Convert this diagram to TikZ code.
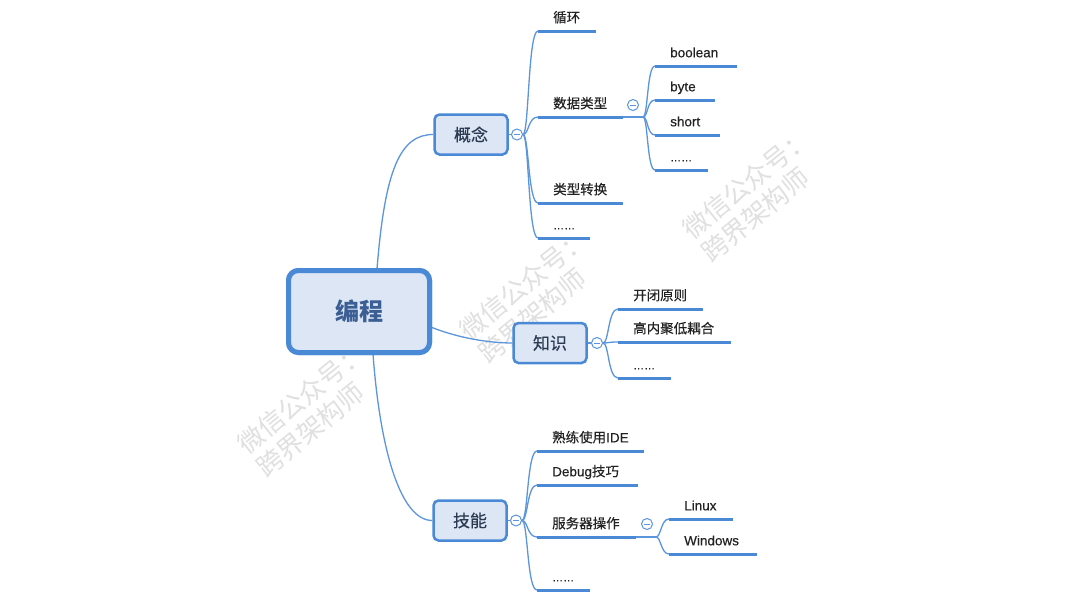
\documentclass[tikz,border=0pt]{standalone}
\usepackage{fontspec}
\setmainfont{Noto Sans CJK SC}
\newfontfamily\lat{Liberation Sans}[FakeBold=0.3]
\usetikzlibrary{calc}
\definecolor{blu}{HTML}{4A89D6}
\definecolor{lnk}{HTML}{5B95DC}
\definecolor{boxfill}{HTML}{DCE6F4}
\definecolor{roottxt}{HTML}{3B5F94}
\definecolor{boxtxt}{HTML}{2B3A52}
\definecolor{txt}{HTML}{222222}
\definecolor{wmc}{HTML}{E0E0E0}
\newcommand{\dotsym}{{\lat\fontsize{11}{12}\selectfont ……}}
\begin{document}
\begin{tikzpicture}[x=1pt,y=-1pt,
 rootbox/.style={draw=blu, line width=5pt, fill=boxfill, rounded corners=10pt, minimum width=141pt, minimum height=82pt, font=\fontsize{24}{28}\selectfont\bfseries, text=roottxt},
 topic/.style={draw=blu, line width=2.5pt, fill=boxfill, rounded corners=5pt, minimum width=73pt, minimum height=40pt, font=\fontsize{17}{20}\selectfont\addfontfeature{FakeBold=0.3}, text=boxtxt},
 leaf/.style={anchor=south west, inner xsep=0pt, inner ysep=0pt, text width=#1, align=left, text height=10pt, text depth=8.5pt, font=\fontsize{13.5}{16}\selectfont\addfontfeature{FakeBold=0.25}, text=txt, execute at begin node={\noindent\hspace*{15pt}}},
 uline/.style={draw=blu, line width=3pt},
 link/.style={draw=lnk, line width=1.3pt},
 fold/.style={circle, draw=lnk, line width=1pt, fill=white, minimum size=11pt, inner sep=0pt},
 foldbar/.style={draw=lnk, line width=0.9pt},
 wm/.style={rotate=39, align=left, font=\fontsize{26}{30}\selectfont, text=wmc, inner sep=0pt}
]
\fill[white] (0,0) rectangle (1080,608);
\useasboundingbox (0,0) rectangle (1080,608);

% watermarks
\node[wm] (w1) at (756,195) {微信公众号：\\跨界架构师};
\node[wm] (w2) at (533,296) {微信公众号：\\跨界架构师};
\node[wm] (w3) at (311,410) {微信公众号：\\跨界架构师};

% main nodes
\node[topic] (g1) at (471,134.5) {概念};
\node[topic] (g2) at (550,343) {知识};
\node[topic] (g3) at (470,520.5) {技能};
\node[rootbox] (root) at (359,311.5) {编程};

% root connectors
\draw[link] ($(root.north)+(18,1)$) .. controls +(8,-100) and +(-33,0) .. (g1.west);
\draw[link] ($(root.east)+(0,16)$) .. controls +(28,11) and +(-22,0) .. (g2.west);
\draw[link] ($(root.south)+(14,-1)$) .. controls +(7,95) and +(-32,0) .. (g3.west);
\node[rootbox] at (root.center) {编程};

% fold circles
\node[fold] (cc1) at (517,134.5) {};
\node[fold] (cc2) at (597,343) {};
\node[fold] (cc3) at (516,520.5) {};
\node[fold] (cc4) at (633,105) {};
\node[fold] (cc5) at (647,524) {};
\draw[link] (g1.east) -- (cc1.west);
\draw[link] (g2.east) -- (cc2.west);
\draw[link] (g3.east) -- (cc3.west);

% concept leaves
\node[leaf=58pt] (c11) at (538,31) {循环};
\node[leaf=85pt] (c12) at (538,117) {数据类型};
\node[leaf=85pt] (c13) at (538,203) {类型转换};
\node[leaf=52pt] (c14) at (538,238) {\dotsym};
% data type leaves
\node[leaf=82pt] (d1) at (655,66) {{\lat boolean}};
\node[leaf=60pt] (d2) at (655,100) {{\lat byte}};
\node[leaf=65pt] (d3) at (655,135) {{\lat short}};
\node[leaf=53pt] (d4) at (655,170) {\dotsym};
% knowledge leaves
\node[leaf=85pt] (k1) at (618,309) {开闭原则};
\node[leaf=113pt] (k2) at (618,342) {高内聚低耦合};
\node[leaf=53pt] (k3) at (618,378) {\dotsym};
% skill leaves
\node[leaf=107pt] (s1) at (537,451) {熟练使用{\lat IDE}};
\node[leaf=101pt] (s2) at (537,485) {{\lat Debug}技巧};
\node[leaf=99pt] (s3) at (537,537) {服务器操作};
\node[leaf=53pt] (s4) at (537,590) {\dotsym};
% server leaves
\node[leaf=64pt] (v1) at (669,519) {{\lat Linux}};
\node[leaf=88pt] (v2) at (669,554) {{\lat Windows}};

\coordinate (jd) at (643,117);
\coordinate (js) at (656,537);
\draw[link] (c12.south east) -- (jd);
\draw[link] (s3.south east) -- (js);

% branch curves
\foreach \n in {c11,c12,c13,c14}
  \draw[link] (cc1.east) .. controls +(6,0) and +(-10,0) .. (\n.south west);
\foreach \n in {k1,k2,k3}
  \draw[link] (cc2.east) .. controls +(6,0) and +(-10,0) .. (\n.south west);
\foreach \n in {s1,s2,s3,s4}
  \draw[link] (cc3.east) .. controls +(6,0) and +(-10,0) .. (\n.south west);
\foreach \n in {d1,d2,d3,d4}
  \draw[link] (jd) .. controls +(5,0) and +(-8,0) .. (\n.south west);
\foreach \n in {v1,v2}
  \draw[link] (js) .. controls +(5,0) and +(-8,0) .. (\n.south west);

% underlines
\foreach \n in {c11,c12,c13,c14,d1,d2,d3,d4,k1,k2,k3,s1,s2,s3,s4,v1,v2}
  \draw[uline] (\n.south west) -- (\n.south east);

% fold bars
\foreach \n in {cc1,cc2,cc3,cc4,cc5}
  \draw[foldbar] ([xshift=-3pt]\n.center) -- ([xshift=3pt]\n.center);
\end{tikzpicture}
\end{document}
